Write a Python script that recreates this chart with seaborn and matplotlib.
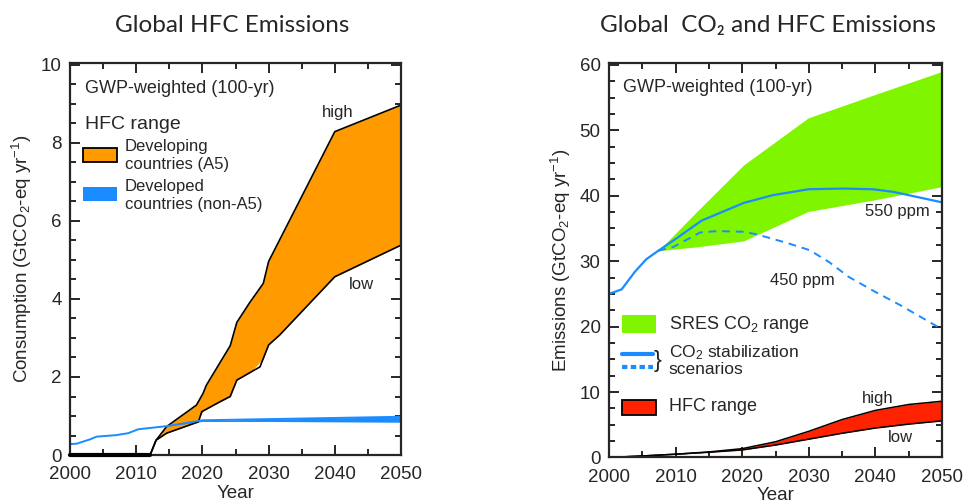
import matplotlib
matplotlib.use("Agg")
import matplotlib.pyplot as plt
import seaborn as sns
import pandas as pd
import numpy as np
from matplotlib.patches import Rectangle
from matplotlib.lines import Line2D
from matplotlib.ticker import MultipleLocator

# left panel: HFC consumption
a5_years = [2000, 2012.1, 2013.0, 2014.6, 2019.1, 2020.1, 2020.6, 2024.2, 2025.2, 2027.2, 2029.2, 2030.0, 2040.0, 2050]
a5_high = [0.0, 0.0, 0.38, 0.73, 1.28, 1.58, 1.79, 2.80, 3.40, 3.92, 4.40, 4.96, 8.29, 8.97]
a5_low_years = [2000, 2012.1, 2013.0, 2014.6, 2019.4, 2019.9, 2022.7, 2024.2, 2025.2, 2028.7, 2030.0, 2031.7, 2040.0, 2050]
a5_low = [0.0, 0.0, 0.38, 0.56, 0.85, 1.11, 1.37, 1.50, 1.92, 2.26, 2.82, 3.08, 4.57, 5.38]

na5_years = [2000, 2001, 2003, 2004, 2007, 2008.8, 2010.3, 2014.6, 2020, 2030, 2040, 2050]
na5_high = [0.28, 0.29, 0.40, 0.47, 0.51, 0.56, 0.66, 0.74, 0.89, 0.92, 0.95, 0.98]
na5_low = [0.28, 0.29, 0.40, 0.47, 0.51, 0.56, 0.66, 0.74, 0.86, 0.86, 0.85, 0.84]

# right panel: CO2 and HFC emissions
sres_years = [2007.4, 2013.2, 2020.2, 2029.9, 2040, 2050]
sres_high = [31.6, 37.6, 44.7, 51.9, 55.5, 59.0]
sres_low = [31.6, 32.2, 33.1, 37.6, 39.4, 41.4]

s550_years = [2000, 2001.9, 2003.9, 2005.6, 2007.4, 2010, 2013.9, 2020.2, 2024.6, 2030, 2035.1, 2039.6, 2042.7, 2050]
s550 = [25.0, 25.7, 28.4, 30.3, 31.6, 33.4, 36.2, 38.9, 40.1, 41.0, 41.1, 41.0, 40.6, 39.0]
s450_years = [2007.4, 2009.7, 2013.7, 2016.2, 2020.2, 2022.2, 2026.7, 2030.1, 2033.0, 2036.0, 2040.0, 2043.7, 2050]
s450 = [31.6, 32.2, 34.4, 34.6, 34.5, 34.1, 32.8, 31.7, 29.9, 27.6, 25.3, 23.3, 19.6]

hfc_years = [2000, 2005, 2010, 2015, 2020, 2025, 2030, 2035, 2040, 2045, 2050]
hfc_high = [0.0, 0.23, 0.5, 0.85, 1.35, 2.4, 4.0, 5.8, 7.2, 8.1, 8.6]
hfc_low = [0.0, 0.23, 0.5, 0.8, 1.15, 1.9, 2.8, 3.7, 4.5, 5.1, 5.6]

ORANGE = "#ff9a00"
BLUE = "#1a8cff"
GREEN = "#80f500"
RED = "#ff2200"

sns.set_style("ticks")
plt.rcParams["font.family"] = ["Liberation Sans", "DejaVu Sans"]
plt.rcParams["mathtext.default"] = "regular"

fig = plt.figure(figsize=(9.63, 5.03), dpi=100)
ax1 = fig.add_axes([0.0727, 0.0954, 0.3437, 0.7794])
ax2 = fig.add_axes([0.6324, 0.0905, 0.3458, 0.7843])


def style_axes(ax, ymajor, yminor):
    ax.set_xlim(2000, 2050)
    ax.xaxis.set_major_locator(MultipleLocator(10))
    ax.xaxis.set_minor_locator(MultipleLocator(5))
    ax.yaxis.set_major_locator(MultipleLocator(ymajor))
    ax.yaxis.set_minor_locator(MultipleLocator(yminor))
    ax.tick_params(which="both", direction="in", top=True, right=True, labelsize=13.5, width=1.4)
    ax.tick_params(axis="x", pad=8)
    ax.tick_params(axis="y", pad=6)
    ax.tick_params(which="major", length=7)
    ax.tick_params(which="minor", length=4)
    for s in ax.spines.values():
        s.set_linewidth(1.6)
    ax.set_xlabel("Year", fontsize=13.5, labelpad=1)


# ---- left panel
df_a5 = pd.DataFrame({"year": a5_years, "high": a5_high})
df_a5l = pd.DataFrame({"year": a5_low_years, "low": a5_low})
low_on_high = np.interp(a5_years, a5_low_years, a5_low)
ax1.fill_between(a5_years, low_on_high, a5_high, color=ORANGE, lw=0)
sns.lineplot(data=df_a5, x="year", y="high", ax=ax1, color="black", lw=1.2)
sns.lineplot(data=df_a5l, x="year", y="low", ax=ax1, color="black", lw=1.2)
ax1.fill_between(na5_years, na5_low, na5_high, color=BLUE, lw=0)
sns.lineplot(x=na5_years, y=na5_high, ax=ax1, color=BLUE, lw=1.4)
ax1.plot([2000, 2012.1], [0, 0], color="black", lw=3, clip_on=False, zorder=5)
style_axes(ax1, 2, 0.5)
ax1.set_ylim(0, 10.05)
ax1.set_ylabel("Consumption (GtCO$_2$-eq yr$^{-1}$)", fontsize=13.5, labelpad=5)

ax1.text(0.045, 0.936, "GWP-weighted (100-yr)", transform=ax1.transAxes, fontsize=13, va="center")
ax1.text(0.045, 0.842, "HFC range", transform=ax1.transAxes, fontsize=14, va="center")
ax1.add_patch(Rectangle((0.039, 0.747), 0.103, 0.036, transform=ax1.transAxes,
                        facecolor=ORANGE, edgecolor="black", lw=1.3))
ax1.text(0.166, 0.786, "Developing", transform=ax1.transAxes, fontsize=12, va="center")
ax1.text(0.166, 0.742, "countries (A5)", transform=ax1.transAxes, fontsize=12, va="center")
ax1.add_patch(Rectangle((0.039, 0.648), 0.103, 0.036, transform=ax1.transAxes,
                        facecolor=BLUE, edgecolor="none"))
ax1.text(0.166, 0.686, "Developed", transform=ax1.transAxes, fontsize=12, va="center")
ax1.text(0.166, 0.640, "countries (non-A5)", transform=ax1.transAxes, fontsize=12, va="center")
ax1.text(2040.5, 8.77, "high", fontsize=12, ha="center", va="center")
ax1.text(2044.1, 4.36, "low", fontsize=12, ha="center", va="center")

# ---- right panel
ax2.fill_between(sres_years, sres_low, sres_high, color=GREEN, lw=0)
sns.lineplot(x=s550_years, y=s550, ax=ax2, color=BLUE, lw=1.6)
sns.lineplot(x=s450_years, y=s450, ax=ax2, color=BLUE, lw=1.4, linestyle=(0, (4, 3)))
ax2.fill_between(hfc_years, hfc_low, hfc_high, color=RED, lw=0)
sns.lineplot(x=hfc_years, y=hfc_high, ax=ax2, color="black", lw=1.1)
sns.lineplot(x=hfc_years, y=hfc_low, ax=ax2, color="black", lw=1.1)
style_axes(ax2, 10, 2.5)
ax2.set_ylim(0, 60.3)
ax2.set_ylabel("Emissions (GtCO$_2$-eq yr$^{-1}$)", fontsize=13.5, labelpad=5)

ax2.text(0.042, 0.937, "GWP-weighted (100-yr)", transform=ax2.transAxes, fontsize=13, va="center")
ax2.text(2038.5, 37.6, "550 ppm", fontsize=12, va="center")
ax2.text(2024.2, 27.1, "450 ppm", fontsize=12, va="center")
ax2.text(2040.4, 9.0, "high", fontsize=12, ha="center", va="center")
ax2.text(2043.8, 3.1, "low", fontsize=12, ha="center", va="center")

ax2.add_patch(Rectangle((0.039, 0.316), 0.102, 0.045, transform=ax2.transAxes,
                        facecolor=GREEN, edgecolor="none"))
ax2.text(0.180, 0.338, "SRES CO$_2$ range", transform=ax2.transAxes, fontsize=13, va="center")
ax2.add_line(Line2D([0.039, 0.133], [0.262, 0.262], transform=ax2.transAxes, color=BLUE, lw=3))
ax2.add_line(Line2D([0.039, 0.133], [0.229, 0.229], transform=ax2.transAxes, color=BLUE, lw=3,
                    linestyle=(0, (1.3, 0.8))))
ax2.text(0.133, 0.245, "}", transform=ax2.transAxes, fontsize=17, va="center", ha="left")
ax2.text(0.180, 0.266, "CO$_2$ stabilization", transform=ax2.transAxes, fontsize=12.5, va="center")
ax2.text(0.180, 0.222, "scenarios", transform=ax2.transAxes, fontsize=12.5, va="center")
ax2.add_patch(Rectangle((0.039, 0.108), 0.102, 0.038, transform=ax2.transAxes,
                        facecolor=RED, edgecolor="black", lw=1.3))
ax2.text(0.180, 0.128, "HFC range", transform=ax2.transAxes, fontsize=13, va="center")

fig.text(0.241, 0.95, "Global HFC Emissions", fontsize=17.5, ha="center", va="center",
         family=["Lato", "DejaVu Sans"])
fig.text(0.797, 0.95, "Global  CO\u2082 and HFC Emissions", fontsize=17.5, ha="center", va="center",
         family=["Lato", "DejaVu Sans"])

fig.savefig("out.png", dpi=100)
